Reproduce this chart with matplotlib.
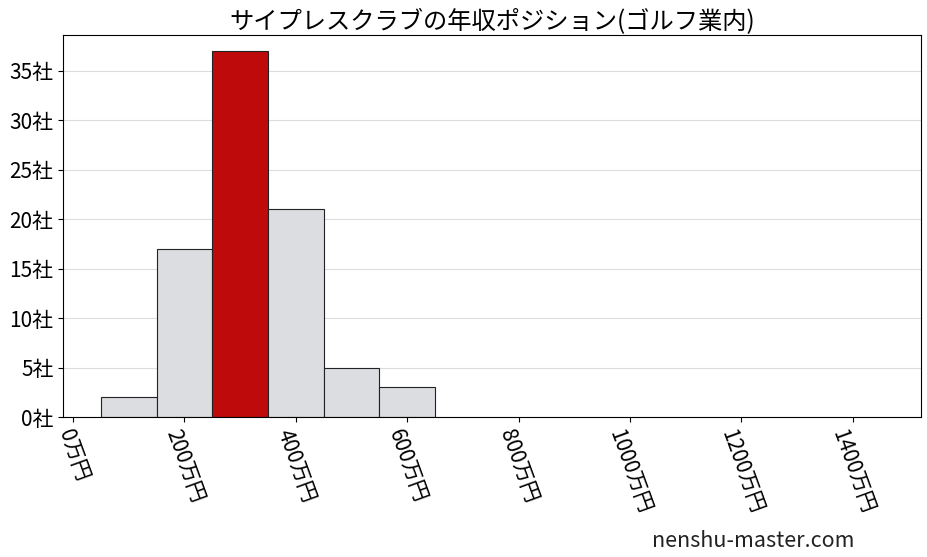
import matplotlib
matplotlib.use("Agg")
import matplotlib.pyplot as plt

plt.rcParams['font.family'] = ['Noto Sans CJK JP', 'DejaVu Sans']

# 年収の階級（万円）と社数
bin_left = [50, 150, 250, 350, 450, 550]
counts = [2, 17, 37, 21, 5, 3]
highlight = 250  # 対象企業の階級
xticks = [0, 200, 400, 600, 800, 1000, 1200, 1400]
yticks = [0, 5, 10, 15, 20, 25, 30, 35]
title = "サイプレスクラブの年収ポジション(ゴルフ業内)"

fig = plt.figure(figsize=(9.28, 5.57), dpi=100)
ax = fig.add_axes([0.068, 0.251, 0.924, 0.686])

colors = ['#be0a0a' if b == highlight else '#dcdde0' for b in bin_left]
ax.bar(bin_left, counts, width=100, align='edge', color=colors,
       edgecolor='#222222', linewidth=0.8, zorder=2)

ax.set_xlim(-18, 1522)
ax.set_ylim(0, 38.6)
ax.set_xticks(xticks)
ax.set_xticklabels([f"{v}万円" for v in xticks], rotation=-70,
                   ha='center', va='top', fontsize=15)
ax.set_yticks(yticks)
ax.set_yticklabels([f"{v}社" for v in yticks], fontsize=15)
ax.grid(axis='y', color='#dddddd', linewidth=0.8, zorder=0)
ax.set_axisbelow(True)
ax.set_title(title, fontsize=17.5, pad=4)

fig.text(0.703, 0.018, "nenshu-master.com", fontsize=15.5, color='#222222')

fig.savefig("out.png", dpi=100)
